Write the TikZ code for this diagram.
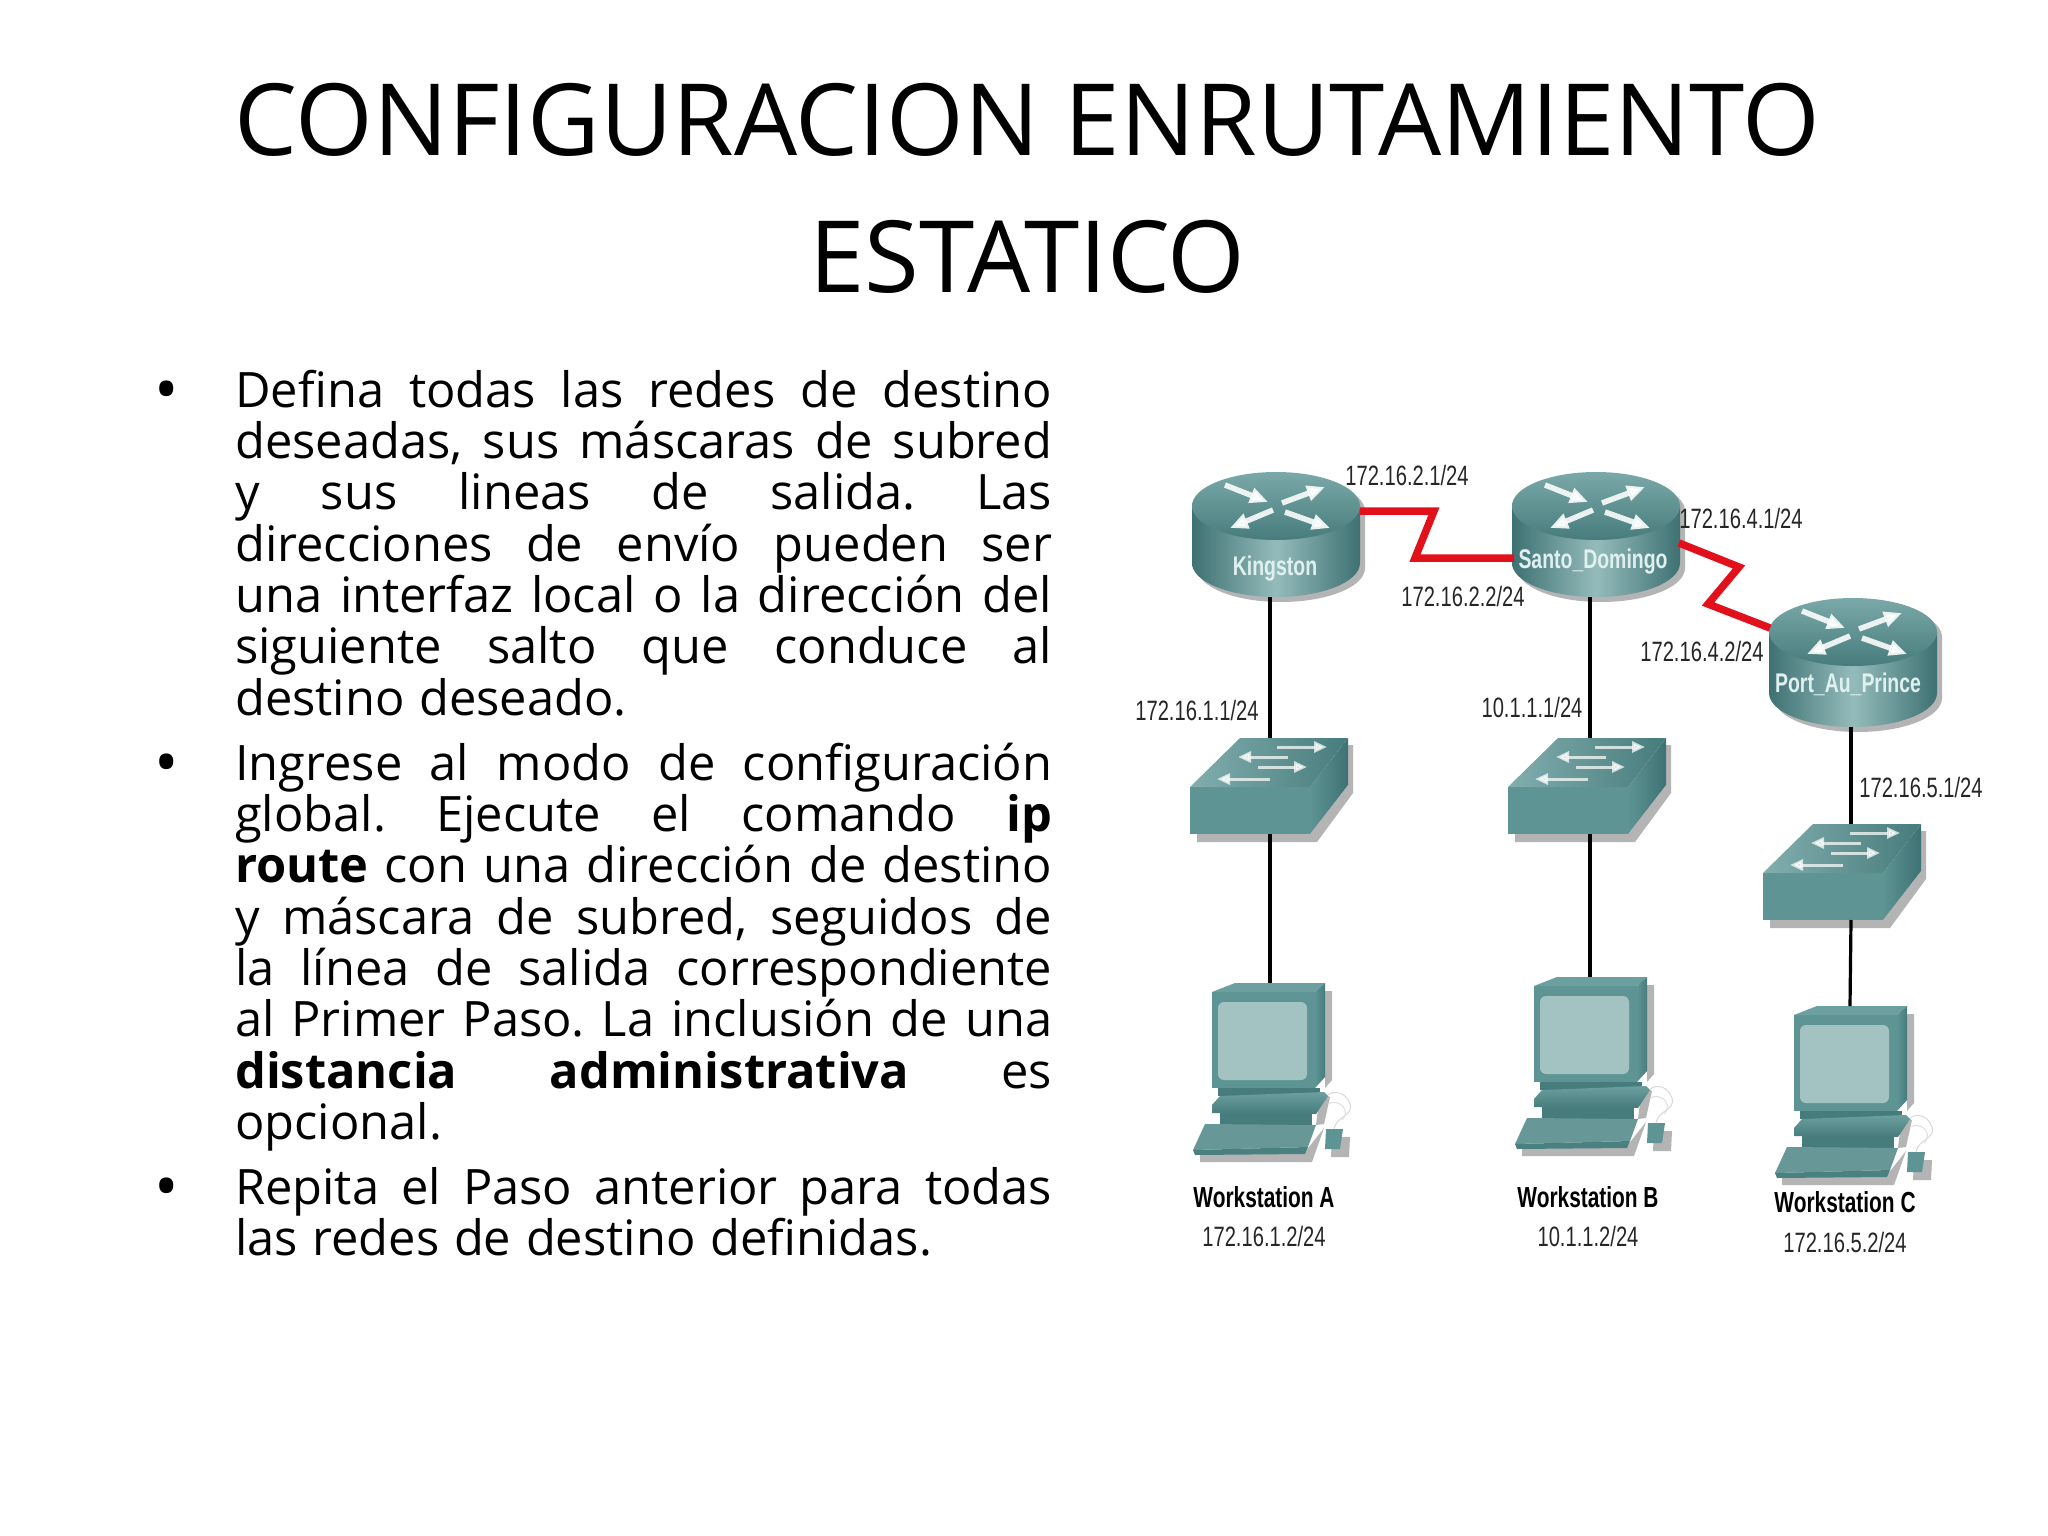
\documentclass[tikz,border=0pt]{standalone}
\usepackage{fontspec}
\usetikzlibrary{arrows.meta}
\setmainfont{Open Sans}
\newfontfamily\netfont[FakeStretch=0.72]{Liberation Sans}
\definecolor{tealfront}{HTML}{5E9494}
\definecolor{tealtop}{HTML}{6C9F9F}
\definecolor{tealside}{HTML}{477C7C}
\definecolor{tealdark}{HTML}{3E7173}
\definecolor{teallight}{HTML}{A2C5C4}
\definecolor{tealscreen}{HTML}{A3C3C2}
\definecolor{shadowgray}{HTML}{B4B4B4}
\definecolor{redlink}{HTML}{E2101A}
\tikzset{
  titletext/.style={font=\fontsize{99.7}{136}\selectfont,inner sep=0pt,anchor=base},
  bodypara/.style={font=\fontsize{48.8}{51.3}\selectfont\frenchspacing,inner sep=0pt,anchor=north west,text width=817pt,align=left},
  bulletmark/.style={font=\fontsize{65}{65}\selectfont,inner sep=0pt,anchor=base},
  iplabel/.style={font=\netfont\fontsize{28}{28}\selectfont,inner sep=0pt,text height=20pt,text depth=0pt,text=black!85},
  wslabel/.style={font=\netfont\bfseries\fontsize{29}{29}\selectfont,inner sep=0pt,text height=21pt,text depth=0pt,text=black},
  routerlabel/.style={font=\netfont\bfseries\fontsize{27}{27}\selectfont,inner sep=0pt,text=white!88!teal},
  wire/.style={draw=black,line width=3.2pt},
  seriallink/.style={draw=redlink,line width=7.5pt,miter limit=10},
  anchorbox/.style={inner sep=0pt,outer sep=0pt,draw=none,fill=none},
  flowtip/.style={white,opacity=.88,line width=5.5pt,-{Triangle[length=18pt,width=15pt]}},
  swtip/.style={white,opacity=.72,line width=3pt,-{Triangle[length=13pt,width=11pt]}}
}
\newcommand{\jl}[1]{\leavevmode\hbox to 817pt{\spaceskip=.3em plus 1em minus .05em\xspaceskip=\spaceskip\rule{0pt}{38pt}#1}}
\newcommand{\nl}[1]{\leavevmode\hbox to 817pt{\spaceskip=.3em\xspaceskip=\spaceskip\rule{0pt}{38pt}#1\hfil}}
% \routerdev{name}{centre x}{top-ellipse y}{wire x}{body height}
\newcommand{\routerdev}[5]{%
  \begin{scope}[shift={(#2,#3)}]
    \fill[shadowgray] (5,5) ellipse [x radius=84,y radius=34];
    \fill[shadowgray] (-79,5) -- (-79,#5+5) .. controls (-79,#5+24) and (-41,#5+39) .. (5,#5+39) .. controls (51,#5+39) and (89,#5+24) .. (89,#5+5) -- (89,5) -- cycle;
    \path[left color=tealdark,right color=tealdark,middle color=teallight!80!tealfront]
      (-84,0) -- (-84,#5) .. controls (-84,#5+19) and (-46,#5+34) .. (0,#5+34) .. controls (46,#5+34) and (84,#5+19) .. (84,#5) -- (84,0) -- cycle;
    \path[top color=tealtop!90!white,bottom color=tealside] (0,0) ellipse [x radius=84,y radius=34];
    \draw[flowtip] (-51,-21) -- (-8,-4);
    \draw[flowtip] (6,-3) -- (49,-19);
    \draw[flowtip] (-3,4) -- (-46,22);
    \draw[flowtip] (9,6) -- (54,22);
  \end{scope}
  \node[anchorbox,minimum width=168pt,minimum height=#5pt+68pt] (#1) at (#4,#3+#5/2) {};
}
% \switchdev{name}{front-top-left x}{y}{wire x}
\newcommand{\switchdev}[4]{%
  \begin{scope}[shift={(#2,#3)}]
    \fill[shadowgray] (7,47) -- (7,55) -- (127,55) -- (163,6) -- (163,-42) -- (158,-42) -- (158,-2) -- (120,47) -- cycle;
    \fill[tealfront] (0,0) rectangle (120,47);
    \path[left color=tealfront,right color=tealdark] (120,0) -- (158,-49) -- (158,-2) -- (120,47) -- cycle;
    \path[left color=tealtop!85!white,right color=tealside] (0,0) -- (50,-49) -- (158,-49) -- (120,0) -- cycle;
    \draw[swtip] (87,-40) -- (137,-40);
    \draw[swtip] (98,-30) -- (48,-30);
    \draw[swtip] (68,-20) -- (117,-20);
    \draw[swtip] (80,-8) -- (27,-8);
  \end{scope}
  \node[anchorbox,minimum width=158pt,minimum height=96pt] (#1) at (#4,#3-1) {};
}
% \pcdev{name}{monitor-front-left x}{y}{wire x}
\newcommand{\pcdev}[4]{%
  \begin{scope}[shift={(#2,#3)}]
    \fill[shadowgray] (113,-1) -- (120,-1) -- (120,88) -- (113,96) -- cycle;
    \fill[shadowgray] (108,100) -- (118,105) -- (112,132) -- (104,133) -- cycle;
    \fill[shadowgray] (-12,160) -- (93,160) -- (112,136) -- (100,170) -- (-12,170) -- cycle;
    \fill[tealfront] (0,0) rectangle (103,96);
    \fill[tealtop] (0,0) -- (23,-9) -- (113,-9) -- (103,0) -- cycle;
    \path[left color=tealfront,right color=tealside] (103,0) -- (113,-9) -- (113,85) -- (103,96) -- cycle;
    \fill[tealscreen,rounded corners=6pt] (6,10) rectangle (95,88);
    \fill[tealside] (6,96) -- (108,96) -- (108,104) -- (6,104) -- cycle;
    \path[top color=tealtop,bottom color=tealside] (8,104) -- (112,100) -- (116,104) -- (104,122) -- (0,121) -- (0,113) -- cycle;
    \fill[tealside] (8,121) -- (100,121) -- (100,133) -- (8,133) -- cycle;
    \fill[tealtop!95!black] (-19,158) -- (-7,132) -- (104,133) -- (96,155) -- cycle;
    \fill[tealside!85!tealfront] (-19,158) -- (96,155) -- (93,162) -- (-17,163) -- cycle;
    \fill[shadowgray] (120,145) -- (138,145) -- (137,165) -- (119,165) -- cycle;
    \fill[tealfront] (114,137) -- (131,137) -- (128,157) -- (113,157) -- cycle;
    \draw[gray!30,line width=1pt] (122,137) .. controls (124,124) and (142,124) .. (138,112) .. controls (134,100) and (122,98) .. (116,103);
    \draw[gray!25,line width=1pt] (116,112) .. controls (126,106) and (140,118) .. (130,128);
  \end{scope}
  \node[anchorbox,minimum width=113pt,minimum height=105pt] (#1) at (#4,#3+43.5) {};
}
\begin{document}
\begin{tikzpicture}[x=1pt,y=-1pt]
\useasboundingbox (0,0) rectangle (2048,1536);
\fill[white] (0,0) rectangle (2048,1536);
% title
\node[titletext] (title1) at (1027.5,156) {CONFIGURACION ENRUTAMIENTO};
\node[titletext] (title2) at (1027.5,292) {ESTATICO};
% bullets
\node[bulletmark] (b1) at (167,412) {•};
\node[bulletmark] (b2) at (167,785) {•};
\node[bulletmark] (b3) at (167,1209) {•};
% paragraphs
\node[bodypara] (p1) at (235,369) {%
\jl{Defina todas las redes de destino}\\
\jl{deseadas, sus máscaras de subred}\\
\jl{y sus lineas de salida. Las}\\
\jl{direcciones de envío pueden ser}\\
\jl{una interfaz local o la dirección del}\\
\jl{siguiente salto que conduce al}\\
\nl{destino deseado.}};
\node[bodypara] (p2) at (235,742) {%
\jl{Ingrese al modo de configuración}\\
\jl{global. Ejecute el comando \textbf{ip}}\\
\jl{\textbf{route} con una dirección de destino}\\
\jl{y máscara de subred, seguidos de}\\
\jl{la línea de salida correspondiente}\\
\jl{al Primer Paso. La inclusión de una}\\
\jl{\textbf{distancia} \textbf{administrativa} es}\\
\nl{opcional.}};
\node[bodypara] (p3) at (235,1166) {%
\jl{Repita el Paso anterior para todas}\\
\nl{las redes de destino definidas.}};
% devices
\routerdev{K}{1276}{506}{1270}{57}
\routerdev{S}{1596}{506}{1590}{57}
\routerdev{P}{1853}{632}{1851}{61}
\node[routerlabel] (Kname) at (1275,569) {Kingston};
\node[routerlabel] (Sname) at (1593,562) {Santo\_Domingo};
\node[routerlabel] (Pname) at (1848,684) {Port\_Au\_Prince};
\switchdev{SWA}{1190}{787}{1270}
\switchdev{SWB}{1508}{787}{1590}
\switchdev{SWC}{1763}{873}{1851}
\pcdev{PCA}{1212}{992}{1270}
\pcdev{PCB}{1534}{986}{1590}
\pcdev{PCC}{1794}{1015}{1850}
% wires
\draw[wire] (K.south) -- (SWA.north);
\draw[wire] (S.south) -- (SWB.north);
\draw[wire] (P.south) -- (SWC.north);
\draw[wire] (SWA.south) -- (PCA.north);
\draw[wire] (SWB.south) -- (PCB.north);
\draw[wire] (SWC.south) -- (PCC.north);
% serial links
\coordinate (k1) at (1360,511);
\coordinate (k2) at (1434,511);
\coordinate (k3) at (1415,558);
\coordinate (k4) at (1514,558);
\coordinate (s1) at (1679,543);
\coordinate (s2) at (1739,567);
\coordinate (s3) at (1708,604);
\coordinate (s4) at (1770,628);
\draw[seriallink] (k1) -- (k2) -- (k3) -- (k4);
\draw[seriallink] (s1) -- (s2) -- (s3) -- (s4);
% labels
\node[iplabel] (l1) at (1407,475) {172.16.2.1/24};
\node[iplabel] (l2) at (1741,518) {172.16.4.1/24};
\node[iplabel] (l3) at (1463,596) {172.16.2.2/24};
\node[iplabel] (l4) at (1702,651) {172.16.4.2/24};
\node[iplabel] (l5) at (1197,710) {172.16.1.1/24};
\node[iplabel] (l6) at (1532,707) {10.1.1.1/24};
\node[iplabel] (l7) at (1921,787) {172.16.5.1/24};
\node[wslabel] (wa) at (1264,1197) {Workstation A};
\node[iplabel] (ia) at (1264,1236) {172.16.1.2/24};
\node[wslabel] (wb) at (1588,1197) {Workstation B};
\node[iplabel] (ib) at (1588,1236) {10.1.1.2/24};
\node[wslabel] (wc) at (1845,1202) {Workstation C};
\node[iplabel] (ic) at (1845,1242) {172.16.5.2/24};
\end{tikzpicture}
\end{document}
